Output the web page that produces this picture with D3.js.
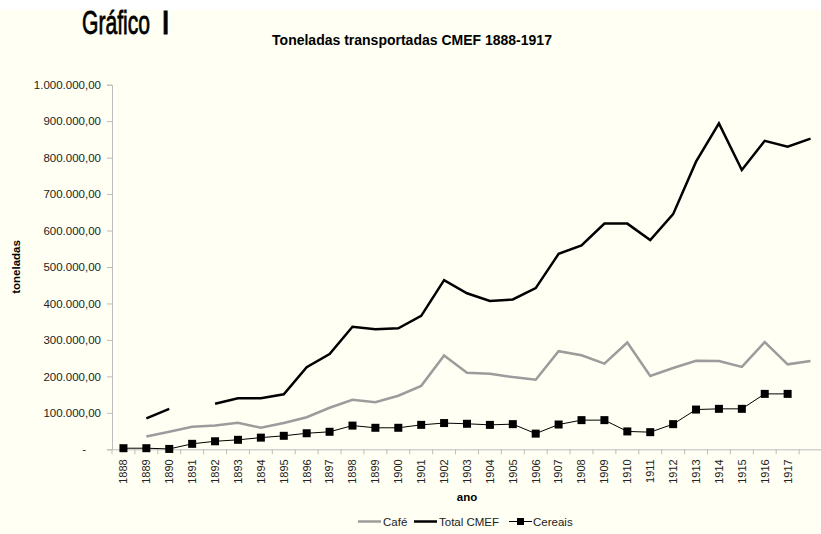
<!DOCTYPE html>
<html>
<head>
<meta charset="utf-8">
<script src="https://cdn.jsdelivr.net/npm/d3@7"></script>
<style>
  body { margin: 0; background: #fff; }
  svg { display: block; }
</style>
</head>
<body>
<svg width="821" height="534"></svg>
<script>

// anos (o ultimo rotulo fica em branco no original)
let years = d3.range(1888, 1919)
let yTicks = [0, 100000, 200000, 300000, 400000, 500000, 600000, 700000, 800000, 900000, 1000000]

let cafe = [null, 35000, 48000, 62000, 65000, 73000, 59000, 72000, 88000, 114000,
  136000, 129000, 147000, 174000, 257000, 210000, 207000, 198000, 191000, 269000,
  258000, 235000, 293000, 201000, 223000, 243000, 242000, 226000, 294000, 233000, 242000]

let totalCMEF = [null, 85000, 111000, null, 125000, 140000, 140000, 151000, 225000, 261000,
  336000, 329000, 332000, 366000, 464000, 428000, 407000, 411000, 442000, 536000,
  559000, 619000, 619000, 574000, 645000, 789000, 894000, 766000, 846000, 830000, 852000]

let cereais = [3000, 3000, 1000, 15000, 22000, 26000, 32000, 37000, 44000, 48000,
  65000, 59000, 59000, 67000, 72000, 70000, 67000, 69000, 43000, 68000,
  80000, 80000, 49000, 47000, 69000, 109000, 111000, 111000, 152000, 152000, null]

let svg = d3.select("svg")

svg.append("rect")
  .attr("x", 0).attr("y", 10)
  .attr("width", 821).attr("height", 524)
  .attr("fill", "#fffff3")

// "Gráfico I" em fonte condensada
svg.append("text")
  .attr("transform", "translate(82,34) scale(0.64,1)")
  .attr("font-family", "Liberation Sans Narrow, Arial Narrow, sans-serif")
  .attr("font-size", 33)
  .attr("fill", "#000")
  .attr("stroke", "#000")
  .attr("stroke-width", 0.8)
  .text("Gráfico")

svg.append("text")
  .attr("x", 161).attr("y", 34)
  .attr("font-family", "Liberation Sans Narrow, Arial Narrow, sans-serif")
  .attr("font-size", 33)
  .attr("fill", "#000")
  .attr("stroke", "#000")
  .attr("stroke-width", 0.8)
  .text("I")

svg.append("text")
  .attr("x", 412).attr("y", 44.5)
  .attr("text-anchor", "middle")
  .attr("font-family", "Liberation Sans, Arial, sans-serif")
  .attr("font-weight", "bold")
  .attr("font-size", 14)
  .text("Toneladas transportadas CMEF 1888-1917")

let x = d3.scaleBand()
  .domain(years)
  .range([112, 822])
  .padding(0)

let y = d3.scaleLinear()
  .domain([0, 1000000])
  .range([449.3, 84.7])

let br = d3.formatLocale({decimal: ",", thousands: ".", grouping: [3], currency: ["", ""]})
let fmt = br.format(",.2f")

// eixo y
let yAxis = svg.append("g")
  .attr("transform", "translate(112,0)")
  .call(d3.axisLeft(y).tickValues(yTicks).tickSize(5).tickPadding(6)
    .tickFormat(function(d){ return d == 0 ? "-" : fmt(d) }))
yAxis.select(".domain").attr("stroke", "#bdbdbd")
yAxis.selectAll(".tick line").attr("stroke", "#bdbdbd")
yAxis.selectAll(".tick text")
  .attr("font-family", "Liberation Sans, Arial, sans-serif")
  .attr("font-size", 11.5)
  .attr("fill", "#222")
yAxis.selectAll(".tick text")
  .filter(function(d){ return d == 0 })
  .attr("dx", -15)

// eixo x
let xAxis = svg.append("g")
  .attr("transform", "translate(0,449.3)")
  .call(d3.axisBottom(x).tickSize(0)
    .tickFormat(function(d){ return d == 1918 ? "" : d }))
xAxis.select(".domain").attr("stroke", "#bdbdbd")
xAxis.selectAll(".tick text")
  .attr("font-family", "Liberation Sans, Arial, sans-serif")
  .attr("font-size", 11)
  .attr("fill", "#222")
  .attr("transform", "rotate(-90)")
  .attr("text-anchor", "end")
  .attr("x", -10)
  .attr("y", 0)
  .attr("dy", "0.35em")

xAxis.selectAll("line.sep")
  .data(years).enter()
  .append("line")
    .attr("class", "sep")
    .attr("x1", function(d){ return x(d) })
    .attr("x2", function(d){ return x(d) })
    .attr("y1", 0).attr("y2", 5)
    .attr("stroke", "#bdbdbd")

svg.append("text")
  .attr("x", 467).attr("y", 501)
  .attr("text-anchor", "middle")
  .attr("font-family", "Liberation Sans, Arial, sans-serif")
  .attr("font-weight", "bold")
  .attr("font-size", 11.5)
  .text("ano")

svg.append("text")
  .attr("transform", "translate(20,267) rotate(-90)")
  .attr("text-anchor", "middle")
  .attr("font-family", "Liberation Sans, Arial, sans-serif")
  .attr("font-weight", "bold")
  .attr("font-size", 11.5)
  .text("toneladas")

function cx(i){ return x(years[i]) + x.bandwidth() / 2 }

let line = d3.line()
  .defined(function(d){ return d != null })
  .x(function(d, i){ return cx(i) })
  .y(function(d){ return y(d) })

svg.append("path")
  .datum(cafe)
  .attr("d", line)
  .attr("fill", "none")
  .attr("stroke", "#9c9c9c")
  .attr("stroke-width", 2.5)

svg.append("path")
  .datum(totalCMEF)
  .attr("d", line)
  .attr("fill", "none")
  .attr("stroke", "#000")
  .attr("stroke-width", 2.5)

svg.append("path")
  .datum(cereais)
  .attr("d", line)
  .attr("fill", "none")
  .attr("stroke", "#000")
  .attr("stroke-width", 1)

svg.selectAll("rect.mk")
  .data(cereais.map(function(v, i){ return {v: v, i: i} }).filter(function(d){ return d.v != null }))
  .enter()
  .append("rect")
    .attr("class", "mk")
    .attr("x", function(d){ return cx(d.i) - 4 })
    .attr("y", function(d){ return y(d.v) - 4 })
    .attr("width", 8)
    .attr("height", 8)
    .attr("fill", "#000")

// legenda
let legend = [
  {name: "Café", color: "#9c9c9c", w: 2.5, mark: false, x0: 358, tx: 383},
  {name: "Total CMEF", color: "#000", w: 2.5, mark: false, x0: 414, tx: 439},
  {name: "Cereais", color: "#000", w: 1, mark: true, x0: 509, tx: 533}
]

let lg = svg.append("g")
lg.selectAll("line")
  .data(legend).enter()
  .append("line")
    .attr("x1", function(d){ return d.x0 })
    .attr("x2", function(d){ return d.x0 + 23 })
    .attr("y1", 521.5).attr("y2", 521.5)
    .attr("stroke", function(d){ return d.color })
    .attr("stroke-width", function(d){ return d.w })

lg.selectAll("rect")
  .data(legend.filter(function(d){ return d.mark })).enter()
  .append("rect")
    .attr("x", function(d){ return d.x0 + 8 })
    .attr("y", 518)
    .attr("width", 7).attr("height", 7)
    .attr("fill", "#000")

lg.selectAll("text.lt")
  .data(legend).enter()
  .append("text")
    .attr("class", "lt")
    .attr("x", function(d){ return d.tx })
    .attr("y", 525.5)
    .attr("font-family", "Liberation Sans, Arial, sans-serif")
    .attr("font-size", 11.5)
    .attr("fill", "#222")
    .text(function(d){ return d.name })

</script>
</body>
</html>
